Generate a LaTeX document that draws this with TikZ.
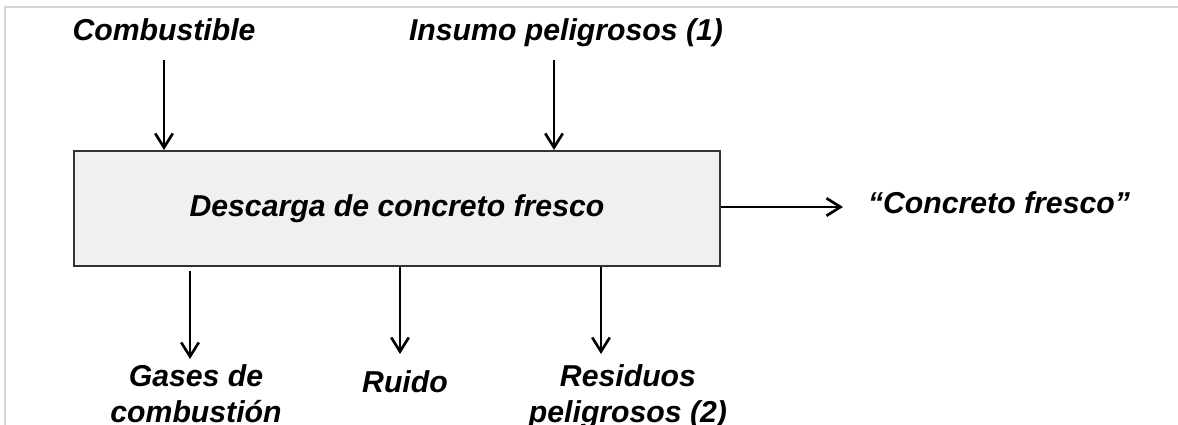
\documentclass[tikz,border=0pt]{standalone}
\usepackage{fontspec}
\setmainfont{Liberation Sans}
\usepackage{tikz}
\usetikzlibrary{arrows.meta,positioning}

\begin{document}
\begin{tikzpicture}[x=0.02cm, y=-0.02cm,
  lbl/.style={font=\fontsize{17.2}{20.5}\selectfont\bfseries\itshape, align=center, inner sep=0pt},
  flow/.style={-{Straight Barb[length=8pt,width=10pt,line width=1.5pt]}, line width=1.4pt},
  procbox/.style={draw=black!80, fill=black!6, line width=1.2pt, minimum width=12.93cm, minimum height=2.3cm, inner sep=0pt}]
\useasboundingbox (0,0) rectangle (1178,425);
%%%%% Frame %%%%%
\draw[black!17, line width=1.5pt] (5,425)--(5,7)--(1178,7);
%%%%% Process %%%%%
\node[procbox, lbl] (proc) at (397,208.5) {Descarga de concreto fresco};
%%%%% Inputs %%%%%
\node[lbl, anchor=base] (comb) at (164,41) {Combustible};
\node[lbl, anchor=base] (insumo) at (566,41) {Insumo peligrosos (1)};
\coordinate (combIn) at (164,60);
\coordinate (insumoIn) at (554,60);
\draw[flow] (combIn) -- (combIn |- proc.north);
\draw[flow] (insumoIn) -- (insumoIn |- proc.north);
%%%%% Outputs %%%%%
\node[lbl, anchor=base] (concreto) at (999,214) {``Concreto fresco''};
\coordinate (concretoOut) at (843,207);
\draw[flow] (concretoOut -| proc.east) -- (concretoOut);
\node[lbl, anchor=base] (gases) at (196,423) {Gases de\\combusti\'on};
\node[lbl, anchor=base] (ruido) at (405,393) {Ruido};
\node[lbl, anchor=base] (residuos) at (628,423) {Residuos\\peligrosos (2)};
\coordinate (gasesOut) at (190,359);
\coordinate (ruidoOut) at (400,354);
\coordinate (residuosOut) at (601,354);
\draw[flow] (190,271) -- (gasesOut);
\draw[flow] (ruidoOut |- proc.south) -- (ruidoOut);
\draw[flow] (residuosOut |- proc.south) -- (residuosOut);
\end{tikzpicture}
\end{document}
